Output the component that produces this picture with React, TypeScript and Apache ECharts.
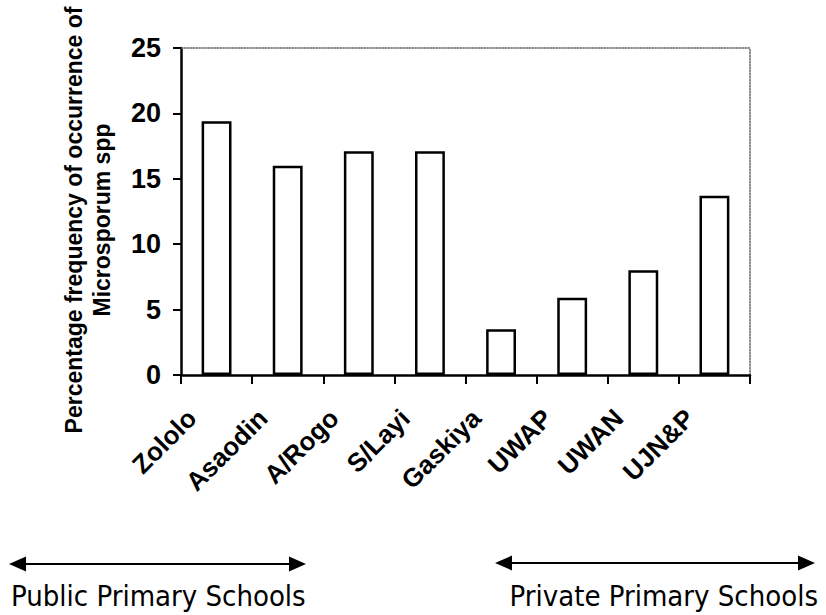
import React, { useEffect, useRef } from "react";
import * as echarts from "echarts";

const categories = ["Zololo", "Asaodin", "A/Rogo", "S/Layi", "Gaskiya", "UWAP", "UWAN", "UJN&P"];
const values = [19.4, 16.0, 17.1, 17.1, 3.5, 5.9, 8.0, 13.7];
const yTicks = [0, 5, 10, 15, 20, 25];
const yTitleLines = ["Percentage frequency of occurrence of", "Microsporum spp"];
const groupLabels = ["Public Primary Schools", "Private Primary Schools"];

const FONT = "'Liberation Sans', Arial, sans-serif";

export default function App() {
  const ref = useRef<HTMLDivElement>(null);
  useEffect(() => {
    if (!ref.current) return;
    const chart = echarts.init(ref.current, undefined, { renderer: "svg" });
    const arrow = (x1: number, x2: number, y: number) => [
      { type: "line", shape: { x1: x1 + 10, y1: y, x2: x2 - 10, y2: y }, style: { stroke: "#000", lineWidth: 2 } },
      { type: "polygon", shape: { points: [[x1, y], [x1 + 17, y - 7.5], [x1 + 17, y + 7.5]] }, style: { fill: "#000" } },
      { type: "polygon", shape: { points: [[x2, y], [x2 - 17, y - 7.5], [x2 - 17, y + 7.5]] }, style: { fill: "#000" } },
    ];
    chart.setOption({
      animation: false,
      backgroundColor: "#fff",
      grid: { left: 181, right: 76, top: 48, bottom: 240, containLabel: false },
      xAxis: [
        {
          type: "category",
          data: categories,
          axisLine: { lineStyle: { color: "#000", width: 2.5 } },
          axisTick: { show: true, length: 9, lineStyle: { color: "#000", width: 2 } },
          axisLabel: {
            rotate: 45,
            interval: 0,
            margin: 14,
            padding: [0, 35, 0, 0],
            fontFamily: FONT,
            fontWeight: "bold",
            fontSize: 26,
            color: "#000",
          },
        },
        {
          type: "category",
          data: categories,
          position: "top",
          axisLine: { show: true, onZero: false, lineStyle: { color: "#666", width: 1.5, type: "dotted" } },
          axisTick: { show: false },
          axisLabel: { show: false },
        },
      ],
      yAxis: [
        {
          type: "value",
          min: yTicks[0],
          max: yTicks[yTicks.length - 1],
          interval: 5,
          axisLine: { show: true, lineStyle: { color: "#000", width: 2.5 } },
          axisTick: { show: true, length: 8, lineStyle: { color: "#000", width: 2 } },
          splitLine: { show: false },
          axisLabel: {
            margin: 20,
            fontFamily: FONT,
            fontWeight: "bold",
            fontSize: 27,
            color: "#000",
          },
        },
        {
          type: "value",
          min: yTicks[0],
          max: yTicks[yTicks.length - 1],
          interval: 5,
          position: "right",
          axisLine: { show: true, onZero: false, lineStyle: { color: "#666", width: 1.5, type: "dotted" } },
          axisTick: { show: false },
          axisLabel: { show: false },
          splitLine: { show: false },
        },
      ],
      series: [
        {
          type: "bar",
          data: values,
          barWidth: "42%",
          itemStyle: { color: "#fff", borderColor: "#000", borderWidth: 2.5 },
        },
      ],
      graphic: [
        {
          type: "text",
          x: 88,
          y: 220,
          rotation: Math.PI / 2,
          style: {
            text: yTitleLines.join("\n"),
            font: `bold 23px ${FONT}`,
            fill: "#000",
            align: "center",
            verticalAlign: "middle",
            lineHeight: 28,
          },
        },
        ...arrow(9, 306, 564),
        ...arrow(495, 815, 563),
        {
          type: "text",
          x: 11,
          y: 596,
          style: {
            text: groupLabels[0],
            font: "29px 'DejaVu Sans Condensed', 'DejaVu Sans', sans-serif",
            fill: "#000",
            align: "left",
            verticalAlign: "middle",
          },
        },
        {
          type: "text",
          x: 818,
          y: 596,
          style: {
            text: groupLabels[1],
            font: "29px 'DejaVu Sans Condensed', 'DejaVu Sans', sans-serif",
            fill: "#000",
            align: "right",
            verticalAlign: "middle",
          },
        },
      ],
    });
    return () => chart.dispose();
  }, []);
  return <div ref={ref} style={{ width: 826, height: 615, position: "absolute", left: 0, top: 0 }} />;
}
